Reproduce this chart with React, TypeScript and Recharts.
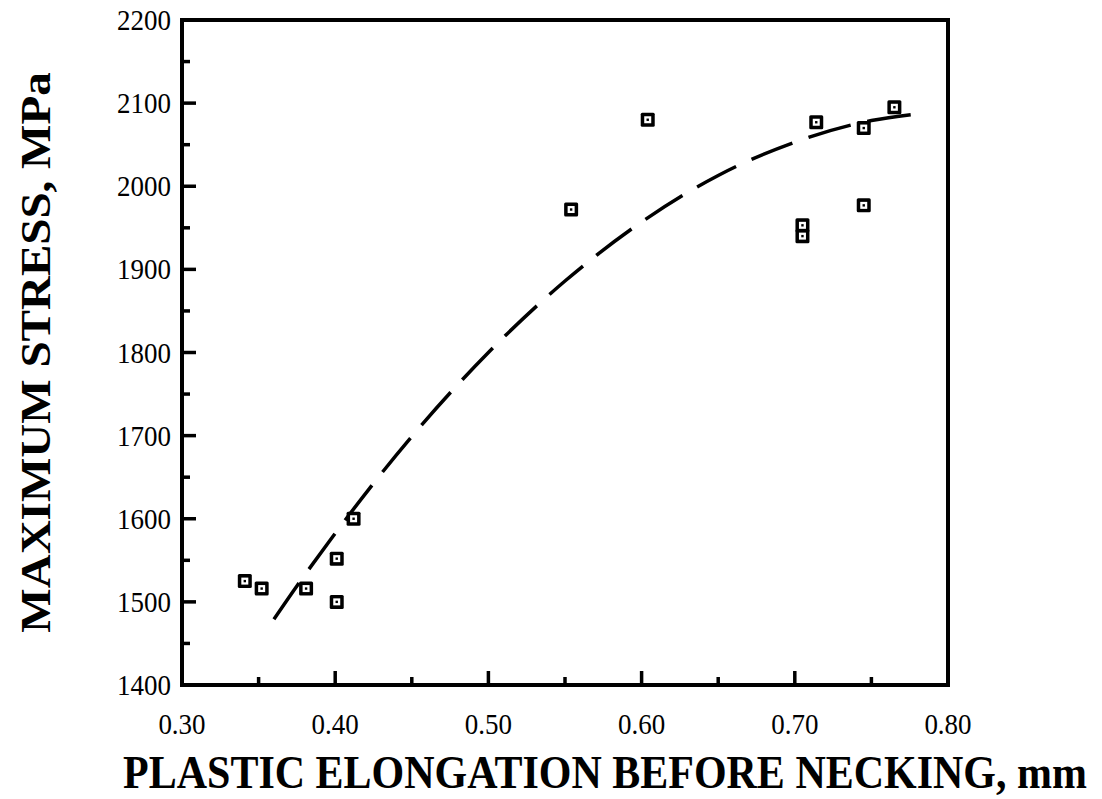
import React from 'react';
import {
  ScatterChart,
  Scatter,
  XAxis,
  YAxis,
  ReferenceArea,
} from 'recharts';

// measured specimens: plastic elongation (mm) vs maximum stress (MPa)
const elongation = [0.341, 0.352, 0.381, 0.401, 0.401, 0.412, 0.554, 0.604, 0.705, 0.705, 0.714, 0.745, 0.745, 0.765];
const stress = [1525, 1516, 1516, 1552, 1500, 1600, 1972, 2080, 1953, 1940, 2077, 2070, 1977, 2095];

// dashed trend curve, read along its length
const curveX = [0.36, 0.375, 0.395, 0.45, 0.5, 0.55, 0.6, 0.65, 0.7, 0.75, 0.78];
const curveY = [1479, 1519, 1570, 1699, 1800, 1886, 1957, 2013, 2053, 2079, 2087];

const xTicks = [0.3, 0.35, 0.4, 0.45, 0.5, 0.55, 0.6, 0.65, 0.7, 0.75, 0.8];
const yTicks = [1400, 1450, 1500, 1550, 1600, 1650, 1700, 1750, 1800, 1850, 1900, 1950, 2000, 2050, 2100, 2150, 2200];

const points = elongation.map((x, i) => ({ x, y: stress[i] }));
const curve = curveX.map((x, i) => ({ x, y: curveY[i] }));

const INK = '#000';
const SERIF = '"Liberation Serif", "Times New Roman", serif';
const MAJOR = 14;
const MINOR = 8;
const TICK_W = 3.5;
const STRETCH = 1.12; // type is set a little taller than wide

const isMajorX = (v: number) => Math.abs(Math.round(v * 10) - v * 10) < 1e-6;
const isMajorY = (v: number) => v % 100 === 0;

// filled square marker with a small open centre and dot
const SquareMarker = (props: any) => {
  const { cx, cy } = props;
  if (cx == null || cy == null) return <g />;
  return (
    <g>
      <rect x={cx - 7} y={cy - 7} width={14} height={14} rx={1.5} fill={INK} />
      <rect x={cx - 3.5} y={cy - 3.5} width={7} height={7} fill="#fff" />
      <rect x={cx - 1.2} y={cy - 1.2} width={2.4} height={2.4} fill={INK} />
    </g>
  );
};

const TallText = ({ x, y, anchor, size, bold, children }: any) => (
  <g transform={`translate(${x},${y}) scale(1,${STRETCH})`}>
    <text x={0} y={0} textAnchor={anchor} fontFamily={SERIF} fontSize={size} fontWeight={bold ? 'bold' : 'normal'} fill={INK}>
      {children}
    </text>
  </g>
);

const BottomTick = (props: any) => {
  const { x, y, payload } = props;
  const major = isMajorX(payload.value);
  return (
    <g>
      <line x1={x} y1={y} x2={x} y2={y - (major ? MAJOR : MINOR)} stroke={INK} strokeWidth={TICK_W} />
      {major && (
        <TallText x={x} y={y + 49} anchor="middle" size={27}>
          {payload.value.toFixed(2)}
        </TallText>
      )}
    </g>
  );
};

const TopTick = (props: any) => {
  const { x, y, payload } = props;
  const major = isMajorX(payload.value);
  return <line x1={x} y1={y} x2={x} y2={y + (major ? MAJOR : MINOR)} stroke={INK} strokeWidth={TICK_W} />;
};

const LeftTick = (props: any) => {
  const { x, y, payload } = props;
  const major = isMajorY(payload.value);
  return (
    <g>
      <line x1={x} y1={y} x2={x + (major ? MAJOR : MINOR)} y2={y} stroke={INK} strokeWidth={TICK_W} />
      {major && (
        <TallText x={x - 11} y={y + 10} anchor="end" size={27}>
          {payload.value}
        </TallText>
      )}
    </g>
  );
};

const RightTick = (props: any) => {
  const { x, y, payload } = props;
  const major = isMajorY(payload.value);
  return <line x1={x} y1={y} x2={x - (major ? MAJOR : MINOR)} y2={y} stroke={INK} strokeWidth={TICK_W} />;
};

// axis titles, placed relative to the plot box
const XTitle = (props: any) => {
  const vb = props.viewBox || {};
  const cx = vb.x + vb.width / 2 + 40;
  const base = vb.y + 103;
  return (
    <TallText x={cx} y={base} anchor="middle" size={42} bold>
      PLASTIC ELONGATION BEFORE NECKING, mm
    </TallText>
  );
};

const YTitle = (props: any) => {
  const vb = props.viewBox || {};
  const cy = vb.y + vb.height / 2;
  return (
    <g transform={`translate(50,${cy}) scale(1,${STRETCH}) rotate(-90)`}>
      <text x={0} y={0} textAnchor="middle" fontFamily={SERIF} fontSize={42} fontWeight="bold" fill={INK}>
        MAXIMUM STRESS, MPa
      </text>
    </g>
  );
};

export default function App() {
  return (
    <div style={{ width: 1102, height: 799, background: '#fff' }}>
      <style>{'body { margin: 0; }'}</style>
      <ScatterChart width={1102} height={799} margin={{ top: 20, right: 154, bottom: 0, left: 0 }}>
        <XAxis
          type="number"
          dataKey="x"
          domain={[0.3, 0.8]}
          ticks={xTicks}
          interval={0}
          height={114}
          tickSize={0}
          tickMargin={0}
          axisLine={false}
          tickLine={false}
          tick={<BottomTick />}
          label={{ content: (p: any) => <XTitle {...p} /> }}
        />
        <XAxis
          xAxisId="top"
          orientation="top"
          type="number"
          dataKey="x"
          domain={[0.3, 0.8]}
          ticks={xTicks}
          interval={0}
          height={0}
          tickSize={0}
          tickMargin={0}
          axisLine={false}
          tickLine={false}
          tick={<TopTick />}
        />
        <YAxis
          type="number"
          dataKey="y"
          domain={[1400, 2200]}
          ticks={yTicks}
          interval={0}
          width={182}
          tickSize={0}
          tickMargin={0}
          axisLine={false}
          tickLine={false}
          tick={<LeftTick />}
          label={{ content: (p: any) => <YTitle {...p} /> }}
        />
        <YAxis
          yAxisId="right"
          orientation="right"
          type="number"
          dataKey="y"
          domain={[1400, 2200]}
          ticks={yTicks}
          interval={0}
          width={0}
          tickSize={0}
          tickMargin={0}
          axisLine={false}
          tickLine={false}
          tick={<RightTick />}
        />
        <ReferenceArea x1={0.3} x2={0.8} y1={1400} y2={2200} fill="none" stroke={INK} strokeWidth={4} />
        <Scatter
          data={curve}
          line={{ stroke: INK, strokeWidth: 3.5, strokeDasharray: '44 17' }}
          lineJointType="monotoneX"
          shape={() => <g />}
          isAnimationActive={false}
        />
        <Scatter data={points} shape={<SquareMarker />} isAnimationActive={false} />
      </ScatterChart>
    </div>
  );
}
